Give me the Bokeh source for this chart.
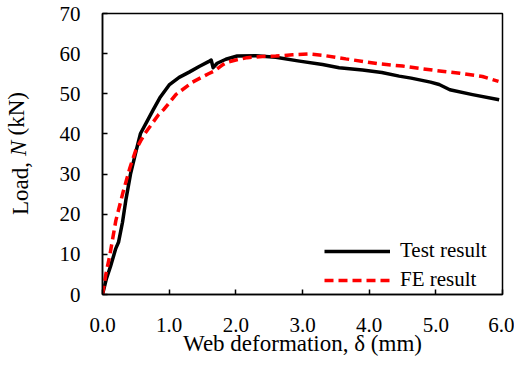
from bokeh.plotting import figure
from bokeh.models import (ColumnDataSource, FixedTicker, Range1d, Legend, LegendItem, LinearAxis)
from bokeh.embed import file_html
from bokeh.resources import INLINE

# ---- data ----
test_d = [0, 0.06, 0.12, 0.2, 0.24, 0.3, 0.35, 0.42, 0.5, 0.57, 0.67, 0.76, 0.86, 1.0,
          1.15, 1.3, 1.45, 1.59, 1.63, 1.66, 1.72, 1.85, 2.02, 2.3, 2.6, 2.93, 3.3, 3.55,
          3.9, 4.19, 4.45, 4.63, 4.92, 5.05, 5.21, 5.55, 5.95]
test_N = [0, 4.0, 7.0, 11.5, 13.0, 18.0, 23.5, 30.0, 35.5, 40.1, 43.2, 46.0, 49.0, 52.2,
          54.1, 55.4, 56.8, 58.0, 58.4, 56.5, 57.6, 58.6, 59.4, 59.5, 59.1, 58.2, 57.3, 56.5,
          55.9, 55.3, 54.4, 53.9, 52.9, 52.3, 51.0, 49.8, 48.5]

fe_d = [0, 0.05, 0.11, 0.2, 0.31, 0.41, 0.5, 0.57, 0.64, 0.71, 0.84, 0.92, 1.1, 1.35,
        1.59, 1.69, 1.8, 1.88, 2.0, 2.17, 2.4, 2.6, 2.85, 3.1, 3.3, 3.65, 4.13, 4.5, 4.77,
        5.0, 5.36, 5.7, 5.94]
fe_N = [0, 5.0, 9.8, 18.4, 25.6, 31.5, 36.0, 38.2, 40.2, 41.8, 44.8, 46.1, 49.8, 52.9,
        55.0, 55.8, 57.2, 57.9, 58.4, 59.0, 59.3, 59.4, 59.7, 59.9, 59.6, 58.7, 57.5, 56.9,
        56.3, 55.8, 55.1, 54.3, 53.1]

x_ticks = [0, 1, 2, 3, 4, 5, 6]
x_tick_labels = ["0.0", "1.0", "2.0", "3.0", "4.0", "5.0", "6.0"]
y_ticks = [0, 10, 20, 30, 40, 50, 60, 70]

series_names = ["Test result", "FE result"]
x_title = "Web deformation, δ (mm)"
y_title_parts = ["Load,", "N", "(kN)"]

FONT = "Liberation Serif"
TITLE_PX = 23

FRAME_L, FRAME_T, FRAME_R, FRAME_B = 96, 13, 502, 295
W, H = 514, 358

p = figure(width=W, height=H, output_backend="svg", toolbar_location=None,
           x_range=Range1d(0, 6), y_range=Range1d(0, 70),
           min_border_left=FRAME_L, min_border_right=W - FRAME_R,
           min_border_top=FRAME_T, min_border_bottom=H - FRAME_B)
p.background_fill_color = "white"
p.border_fill_color = "white"
p.outline_line_color = "black"
p.outline_line_width = 1.5
p.xgrid.visible = False
p.ygrid.visible = False

for axes in (p.xaxis, p.yaxis):
    axes.axis_line_color = "black"
    axes.axis_line_width = 1.5
    axes.major_tick_line_color = "black"
    axes.major_tick_line_width = 1.5
    axes.major_tick_in = 5
    axes.major_tick_out = 0
    axes.minor_tick_line_color = None
    axes.major_label_text_font = FONT
    axes.major_label_text_font_size = "21px"
    axes.major_label_text_color = "black"

p.xaxis.ticker = FixedTicker(ticks=x_ticks)
p.xaxis.major_label_overrides = {t: l for t, l in zip(x_ticks, x_tick_labels)}
p.xaxis.major_label_standoff = 23
p.xaxis.axis_label = x_title
p.xaxis.axis_label_text_font = FONT
p.xaxis.axis_label_text_font_size = f"{TITLE_PX}px"
p.xaxis.axis_label_text_font_style = "normal"
p.xaxis.axis_label_text_color = "black"
p.xaxis.axis_label_standoff = -4

p.yaxis.ticker = FixedTicker(ticks=y_ticks)
p.yaxis.major_label_standoff = 22

# ---- y title "Load, N (kN)" with italic N: three overlaid label-only axes.
# Each label is padded with no-break spaces so that, centred on the frame,
# its visible part lands at its place in the whole title.
NBSP = "\u00a0"
em = {"Load,": 2.305, "N": 0.667, "(kN)": 1.888}
sp = 0.25
wl, wn, wk = (em[t] for t in y_title_parts)
total = wl + sp + wn + sp + wk
start = -total / 2.0
n1 = round((total - wl) / sp)
n_start = start + wl + sp
best = None
for a in range(0, 8):
    wstr = a * sp + wn
    pos = -wstr / 2.0 + a * sp
    err = abs(pos - n_start)
    if best is None or err < best[0]:
        best = (err, a)
a2 = best[1]
k_start = n_start + wn + sp
m3 = round((2 * k_start + wk) / sp)
padded = [y_title_parts[0] + NBSP * n1,
          NBSP * a2 + y_title_parts[1],
          NBSP * m3 + y_title_parts[2]]

LABEL_H = 26
standoffs = [24, -LABEL_H, -LABEL_H]
styles = ["normal", "italic", "normal"]
for text, so, st in zip(padded, standoffs, styles):
    ax = LinearAxis(axis_label=text,
                    ticker=FixedTicker(ticks=[]),
                    axis_line_color=None, major_tick_line_color=None, minor_tick_line_color=None,
                    major_tick_in=0, major_tick_out=0, minor_tick_in=0, minor_tick_out=0,
                    major_label_standoff=0, major_label_text_font_size="0px",
                    axis_label_standoff=so, axis_label_text_font=FONT,
                    axis_label_text_font_size=f"{TITLE_PX}px",
                    axis_label_text_font_style=st, axis_label_text_color="black")
    p.add_layout(ax, "left")

src_t = ColumnDataSource(dict(x=test_d, y=test_N))
src_f = ColumnDataSource(dict(x=fe_d, y=fe_N))
r_t = p.line("x", "y", source=src_t, line_color="black", line_width=3.5, line_join="round")
r_f = p.line("x", "y", source=src_f, line_color="#ff0000", line_width=3.5, line_dash="9 5")

legend = Legend(items=[LegendItem(label=series_names[0], renderers=[r_t]),
                       LegendItem(label=series_names[1], renderers=[r_f])],
                location=(222, 2), border_line_color=None, background_fill_alpha=0,
                label_text_font=FONT, label_text_font_size="21px", label_text_color="black",
                glyph_width=66, glyph_height=24, label_height=24, label_standoff=10,
                spacing=4, padding=0, margin=0)
p.add_layout(legend)

open("out.html", "w").write(file_html(p, INLINE))
